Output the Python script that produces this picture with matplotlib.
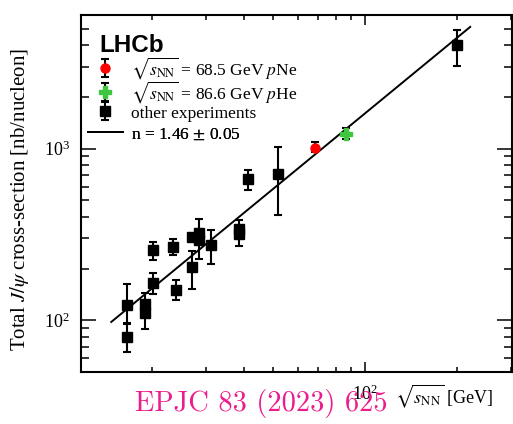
import matplotlib
matplotlib.use("Agg")
import matplotlib.pyplot as plt
import numpy as np
from matplotlib.ticker import NullFormatter

plt.rcParams['font.family'] = 'serif'
plt.rcParams['font.serif'] = ['Liberation Serif', 'DejaVu Serif']
plt.rcParams['mathtext.fontset'] = 'stix'

# other experiments: sqrt(s_NN) [GeV], cross-section and error band [nb/nucleon]
x_other = [16.5, 16.5, 19.0, 19.0, 20.2, 20.2, 23.4, 23.9, 27.0, 27.0,
           28.6, 28.6, 31.2, 38.5, 38.5, 41.2, 51.6, 200.0]
y_other = [122, 80, 125, 110, 256, 166, 267, 151, 305, 204,
           323, 293, 273, 340, 318, 661, 713, 4030]
lo_other = [95, 65, 108, 89, 226, 143, 239, 132, 290, 153,
            290, 228, 213, 310, 270, 573, 413, 3040]
hi_other = [162, 97, 145, 125, 285, 189, 298, 171, 320, 253,
            390, 340, 335, 383, 350, 748, 1017, 4920]

# LHCb fixed-target points
x_pne, y_pne, lo_pne, hi_pne = [68.5], [1013], [960], [1090]
x_phe, y_phe, lo_phe, hi_phe = [86.6], [1217], [1130], [1320]

# power-law fit sigma = A * sqrt(s)^n
fit_n = 1.46
fit_A = 1.932
fit_range = [14.7, 221.0]


def yerr(y, lo, hi):
    y = np.array(y, float)
    return [y - np.array(lo, float), np.array(hi, float) - y]


fig = plt.figure(figsize=(5.13, 4.24), dpi=100)
ax = fig.add_axes([81 / 513, 52 / 424, 431 / 513, 357 / 424])

xf = np.geomspace(fit_range[0], fit_range[1], 200)
fit_line, = ax.plot(xf, fit_A * xf ** fit_n, color='black', lw=1.4, zorder=2)

eb = dict(ls='none', elinewidth=1.5, capsize=3, capthick=1.5, zorder=3)
h_other = ax.errorbar(x_other, y_other, yerr=yerr(y_other, lo_other, hi_other),
                      fmt='s', color='black', ms=6.5, **eb)
h_pne = ax.errorbar(x_pne, y_pne, yerr=yerr(y_pne, lo_pne, hi_pne),
                    fmt='o', color='red', ecolor='black', ms=6.5, **eb)
h_phe = ax.errorbar(x_phe, y_phe, yerr=yerr(y_phe, lo_phe, hi_phe),
                    fmt='P', color='#3fc63f', ecolor='black', ms=8, **eb)

ax.set_xscale('log')
ax.set_yscale('log')
ax.set_xlim(11.7, 303)
ax.set_ylim(50, 6000)

for s in ax.spines.values():
    s.set_linewidth(1.5)
ax.tick_params(which='both', direction='in', top=True, right=True,
               labelsize=13, width=1.1)
ax.tick_params(axis='y', which='major', length=11, pad=8)
ax.tick_params(axis='y', which='minor', length=5.5)
ax.tick_params(axis='x', which='major', length=7, pad=9)
ax.tick_params(axis='x', which='minor', length=3.5)
ax.xaxis.set_minor_formatter(NullFormatter())
ax.yaxis.set_minor_formatter(NullFormatter())

fig.text(20 / 513, 1 - 199 / 424, r'Total $J/\psi$ cross-section [nb/nucleon]',
         rotation=90, ha='center', va='center', fontsize=15)
fig.text(493 / 513, 1 - 403 / 424, r'$\sqrt{s_{\rm NN}}$ [GeV]',
         ha='right', va='baseline', fontsize=13)
fig.text(135 / 513, 1 - 411 / 424, 'EPJC 83 (2023) 625', family='cmr10',
         color='#ec1c8c', ha='left', va='baseline', fontsize=20.5)

ax.text(0.042, 1 - (52 - 15) / 357, 'LHCb', transform=ax.transAxes,
        family='Liberation Sans', fontweight='bold', fontsize=17.5,
        ha='left', va='baseline')

# one legend per row so that every row keeps the same pitch
handles = [h_pne, h_phe, h_other, fit_line]
labels = [r'$\sqrt{s_{\rm NN}}$ = 68.5 GeV $p$Ne',
          r'$\sqrt{s_{\rm NN}}$ = 86.6 GeV $p$He',
          'other experiments',
          r'n = 1.46 $\pm$ 0.05']
row_centres = [68, 92, 113, 134]
for h, lab, yc in zip(handles, labels, row_centres):
    leg = ax.legend([h], [lab], loc='center left',
                    bbox_to_anchor=(7 / 431, (372 - yc) / 357),
                    frameon=False, fontsize=12.5, borderpad=0, borderaxespad=0,
                    handlelength=2.0, handletextpad=0.45, handleheight=0.9)
    ax.add_artist(leg)

fig.savefig('out.png', dpi=100)
